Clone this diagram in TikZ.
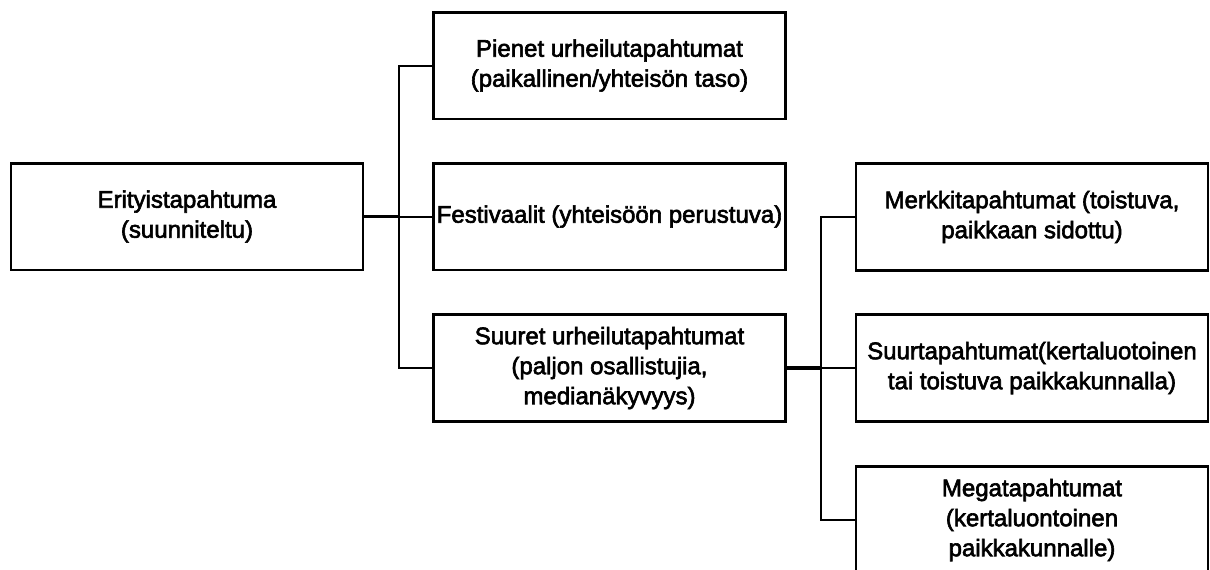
\documentclass[tikz,border=0pt]{standalone}
\usepackage{fontspec}
\setmainfont{Liberation Sans}[FakeBold=2.5]
\begin{document}
\begin{tikzpicture}[x=0.75pt,y=-0.75pt,
  box/.style={draw=black, line width=2pt, minimum width=264pt, minimum height=80pt,
    inner sep=0pt, align=center, font=\fontsize{18pt}{22.5pt}\selectfont},
  conn/.style={draw=black, line width=1.5pt},
  thick conn/.style={draw=black, line width=2.3pt}]
\useasboundingbox (0,0) rectangle (1210,569);
\clip (0,0) rectangle (1210,569);
\node[box] (root) at (187,216.5) {Erityistapahtuma\\(suunniteltu)};
\node[box] (A) at (609.5,65.5) {Pienet urheilutapahtumat\\(paikallinen/yhteisön taso)};
\node[box] (B) at (609.5,216.5) {Festivaalit (yhteisöön perustuva)};
\node[box] (C) at (609.5,368) {Suuret urheilutapahtumat\\(paljon osallistujia,\\medianäkyvyys)};
\node[box] (D) at (1032,217) {Merkkitapahtumat (toistuva,\\paikkaan sidottu)};
\node[box] (E) at (1032,368) {Suurtapahtumat(kertaluotoinen\\tai toistuva paikkakunnalla)};
\node[box] (F) at (1032,520) {Megatapahtumat\\(kertaluontoinen\\paikkakunnalle)};
\coordinate (j1) at (398.5,216.5);
\coordinate (j2) at (821,368);
\draw[thick conn] (root.east) -- (j1);
\draw[conn] (j1) -- (B.west);
\draw[conn] (A.west) -| (j1) |- (C.west);
\draw[thick conn] (C.east) -- (j2);
\draw[conn] (j2) -- (E.west);
\draw[conn] (D.west) -| (j2) |- (F.west);
\end{tikzpicture}
\end{document}
